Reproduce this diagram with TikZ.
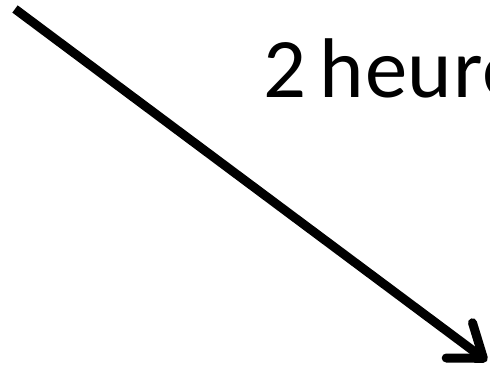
\documentclass[tikz,border=0pt]{standalone}
\usepackage{fontspec}
\setmainfont{Carlito}[WordSpace=0.7, LetterSpace=0.8]
\usetikzlibrary{arrows.meta}

\begin{document}
\begin{tikzpicture}[
  x=1bp, y=-1bp,
  > = {Straight Barb[length=30bp, width=44bp, round]},
  bigarrow/.style = {->, line width=9bp},
  bigtext/.style = {anchor=base west, inner sep=0pt, font=\fontsize{85}{85}\selectfont}
  ]
  \clip (0,0) rectangle (490,376);
  \coordinate (start) at (15,9);
  \coordinate (tip) at (487,361);
  \node[bigtext] (time) at (263,97) {2 heure};
  \draw[bigarrow] (start) -- (tip);
\end{tikzpicture}
\end{document}
